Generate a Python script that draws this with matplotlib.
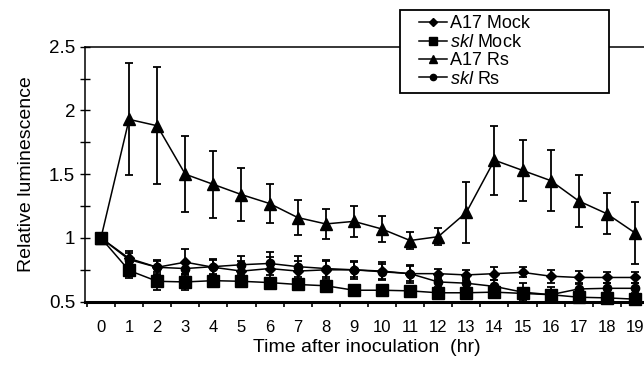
import numpy as np
import matplotlib
matplotlib.use("Agg")
import matplotlib.pyplot as plt
from matplotlib.legend_handler import HandlerLine2D

plt.rcParams['font.family'] = ['Liberation Sans', 'DejaVu Sans']
plt.rcParams['mathtext.fontset'] = 'custom'
plt.rcParams['mathtext.rm'] = 'Liberation Sans'
plt.rcParams['mathtext.it'] = 'Liberation Sans:italic'

hours = list(range(20))
a17_mock = [1.0, 0.84, 0.77, 0.81, 0.77, 0.74, 0.76, 0.74, 0.75, 0.75, 0.74, 0.72, 0.72, 0.71, 0.72, 0.73, 0.70, 0.69, 0.69, 0.69]
a17_mock_err = [0, 0.06, 0.06, 0.10, 0.06, 0.08, 0.09, 0.08, 0.07, 0.07, 0.07, 0.07, 0.04, 0.04, 0.05, 0.04, 0.05, 0.05, 0.04, 0.04]
skl_mock = [1.0, 0.745, 0.66, 0.655, 0.665, 0.66, 0.65, 0.635, 0.625, 0.59, 0.59, 0.585, 0.57, 0.57, 0.575, 0.565, 0.555, 0.535, 0.53, 0.52]
skl_mock_err = [0, 0.06, 0.07, 0.06, 0.04, 0.03, 0.03, 0.03, 0.03, 0.02, 0.02, 0.02, 0.02, 0.02, 0.03, 0.03, 0.03, 0.02, 0.02, 0.02]
a17_rs = [1.0, 1.93, 1.88, 1.50, 1.42, 1.34, 1.27, 1.16, 1.11, 1.13, 1.07, 0.98, 1.01, 1.20, 1.61, 1.53, 1.45, 1.29, 1.19, 1.04]
a17_rs_err = [0, 0.44, 0.46, 0.30, 0.26, 0.21, 0.155, 0.135, 0.115, 0.12, 0.105, 0.065, 0.065, 0.24, 0.27, 0.24, 0.24, 0.205, 0.16, 0.245]
skl_rs = [1.0, 0.83, 0.77, 0.76, 0.775, 0.79, 0.80, 0.775, 0.76, 0.75, 0.735, 0.72, 0.655, 0.645, 0.62, 0.575, 0.555, 0.60, 0.605, 0.605]
skl_rs_err = [0, 0.05, 0.05, 0.04, 0.06, 0.07, 0.09, 0.08, 0.07, 0.06, 0.06, 0.06, 0.04, 0.04, 0.05, 0.07, 0.06, 0.05, 0.04, 0.04]
labels = ['A17 Mock', r'$\it{skl}$ Mock', 'A17 Rs', r'$\it{skl}$ Rs']
yticks = [0.5, 1, 1.5, 2, 2.5]
ytick_labels = ['0.5', '1', '1.5', '2', '2.5']

W, H = 644, 366
fig = plt.figure(figsize=(W / 100, H / 100), dpi=100)
left_px, right_px, top_px, bot_px = 85.5, 649.0, 46.7, 301.7
ax = fig.add_axes([left_px / W, 1 - bot_px / H, (right_px - left_px) / W, (bot_px - top_px) / H])

common = dict(color='black', lw=1.1, elinewidth=1.3, capsize=3, capthick=1.3, clip_on=False)
series = [
    (a17_mock, a17_mock_err, 'D', 5.5),
    (skl_mock, skl_mock_err, 's', 8),
    (a17_rs, a17_rs_err, '^', 8.5),
    (skl_rs, skl_rs_err, 'o', 6),
]
handles = []
for (vals, errs, mk, ms), lab in zip(series, labels):
    eb = ax.errorbar(hours, vals, yerr=errs, marker=mk, markersize=ms, label=lab, **common)
    handles.append(eb.lines[0])

ax.set_xlim(-0.55, 19.5)
ax.set_ylim(0.5, 2.5)
ax.set_xticks(hours)
ax.set_xticklabels([str(h) for h in hours], fontsize=12)
ax.set_xticks(np.arange(-0.5, 20, 1.0), minor=True)
ax.tick_params(axis='x', which='major', length=0, pad=13)
ax.tick_params(axis='x', which='minor', direction='out', length=3.5, width=1.2)
ax.set_yticks(yticks)
ax.set_yticklabels(ytick_labels, fontsize=13.5)
ax.set_yticks(np.arange(0.5, 2.51, 0.25), minor=True)
ax.tick_params(axis='y', which='both', direction='inout', length=7, width=1.0, pad=4)

for s in ['left', 'top']:
    ax.spines[s].set_linewidth(1.1)
ax.spines['bottom'].set_linewidth(2.2)
ax.spines['right'].set_visible(False)

ax.set_ylabel('Relative luminescence', fontsize=14, labelpad=10)
ax.set_xlabel('Time after inoculation  (hr)', fontsize=14, labelpad=3)


class ShiftedHandler(HandlerLine2D):
    def get_xdata(self, legend, xdescent, ydescent, width, height, fontsize):
        x0 = -xdescent + width * 0.33
        x1 = -xdescent + width
        return np.array([x0, x1]), np.array([(x0 + x1) / 2])


leg = fig.legend(handles, labels, loc='upper left',
                 bbox_to_anchor=(400 / W, 1 - 89 / H, 209 / W, 79 / H),
                 bbox_transform=fig.transFigure, mode='expand', borderaxespad=0,
                 fontsize=13, handlelength=2.3, handletextpad=0.15, labelspacing=0.08,
                 borderpad=0.3, fancybox=False, framealpha=1, edgecolor='black',
                 markerscale=0.75,
                 handler_map={h: ShiftedHandler(numpoints=1) for h in handles})
leg.get_frame().set_linewidth(1.3)
leg.set_zorder(10)

fig.savefig('out.png', dpi=100)
